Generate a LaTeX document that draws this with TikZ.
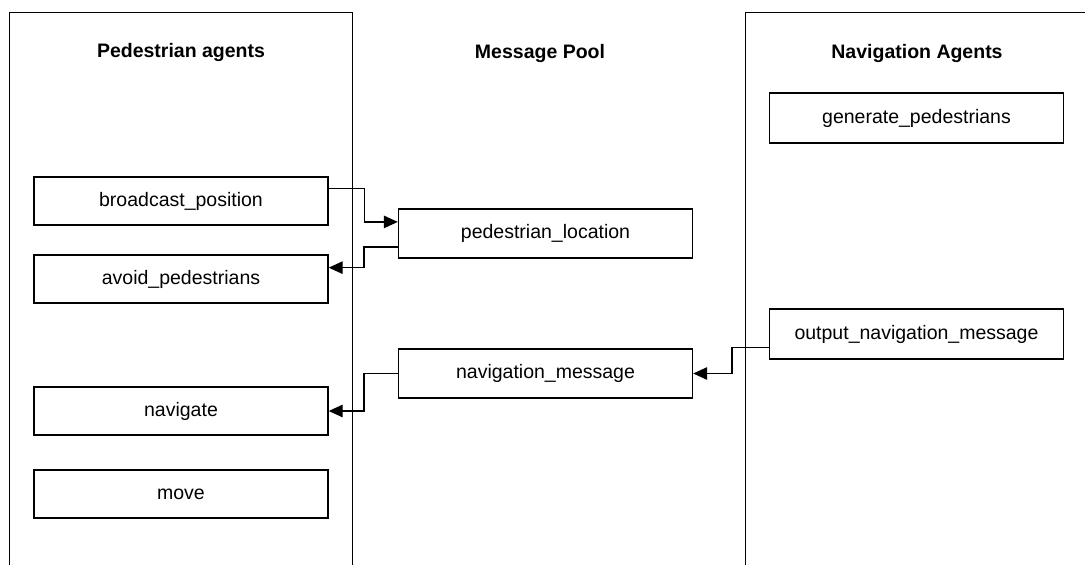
\documentclass[tikz,border=0pt]{standalone}
\usepackage{fontspec}
\setmainfont{Liberation Sans}
\usetikzlibrary{arrows.meta,calc}
\begin{document}
\begin{tikzpicture}[x=1bp,y=-1bp,
  line width=1.4bp,
  every node/.style={font=\fontsize{19.5bp}{23bp}\selectfont},
  func/.style={draw, rectangle, minimum width=294bp, minimum height=48bp, inner sep=0pt},
  panel/.style={draw, rectangle, anchor=north west, inner sep=0pt},
  title/.style={font=\fontsize{19.5bp}{23bp}\selectfont\bfseries, anchor=base},
  link/.style={-{Triangle[length=14bp,width=12.5bp]}, line width=1.4bp}]
\useasboundingbox (0,0) rectangle (1085,565);
\clip (0,0) rectangle (1085,565);

% agent columns (open at the bottom and on the right)
\node[panel, minimum width=343bp, minimum height=600bp] (pedpanel) at (9,12) {};
\node[panel, minimum width=400bp, minimum height=600bp] (navpanel) at (745,12) {};

% column headings
\node[title] (pedtitle) at (181,58) {Pedestrian agents};
\node[title] (pooltitle) at (540,59) {Message Pool};
\node[title] (navtitle) at (917,59) {Navigation Agents};

% pedestrian agent functions
\node[func] (broadcast) at (181,201) {broadcast\_position};
\node[func] (avoid) at (181,279) {avoid\_pedestrians};
\node[func] (navigate) at (181,411) {navigate};
\node[func] (move) at (181,494) {move};

% message lists
\node[func, minimum height=49bp] (pedloc) at (545.5,233.5) {pedestrian\_location};
\node[func, minimum height=49bp] (navmsg) at (545.5,373.5) {navigation\_message};

% navigation agent functions
\node[func, minimum height=50bp] (generate) at (916.5,118) {generate\_pedestrians};
\node[func, minimum height=50bp] (output) at (916.5,334) {output\_navigation\_message};

% message flow
\coordinate (bOut) at ($(broadcast.north east)!0.25!(broadcast.south east)$);
\coordinate (pIn) at ($(pedloc.north west)!0.27!(pedloc.south west)$);
\coordinate (pOut) at ($(pedloc.north west)!0.77!(pedloc.south west)$);
\coordinate (aIn) at ($(avoid.north east)!0.27!(avoid.south east)$);
\coordinate (oOut) at ($(output.north west)!0.76!(output.south west)$);

\draw[link] (bOut) -- ++(36,0) |- (pIn);
\draw[link] (pOut) -- ++(-34,0) |- (aIn);
\draw[link] (navmsg.west) -- ++(-34,0) |- (navigate.east);
\draw[link] (oOut) -- ++(-37,0) |- (navmsg.east);
\end{tikzpicture}
\end{document}
